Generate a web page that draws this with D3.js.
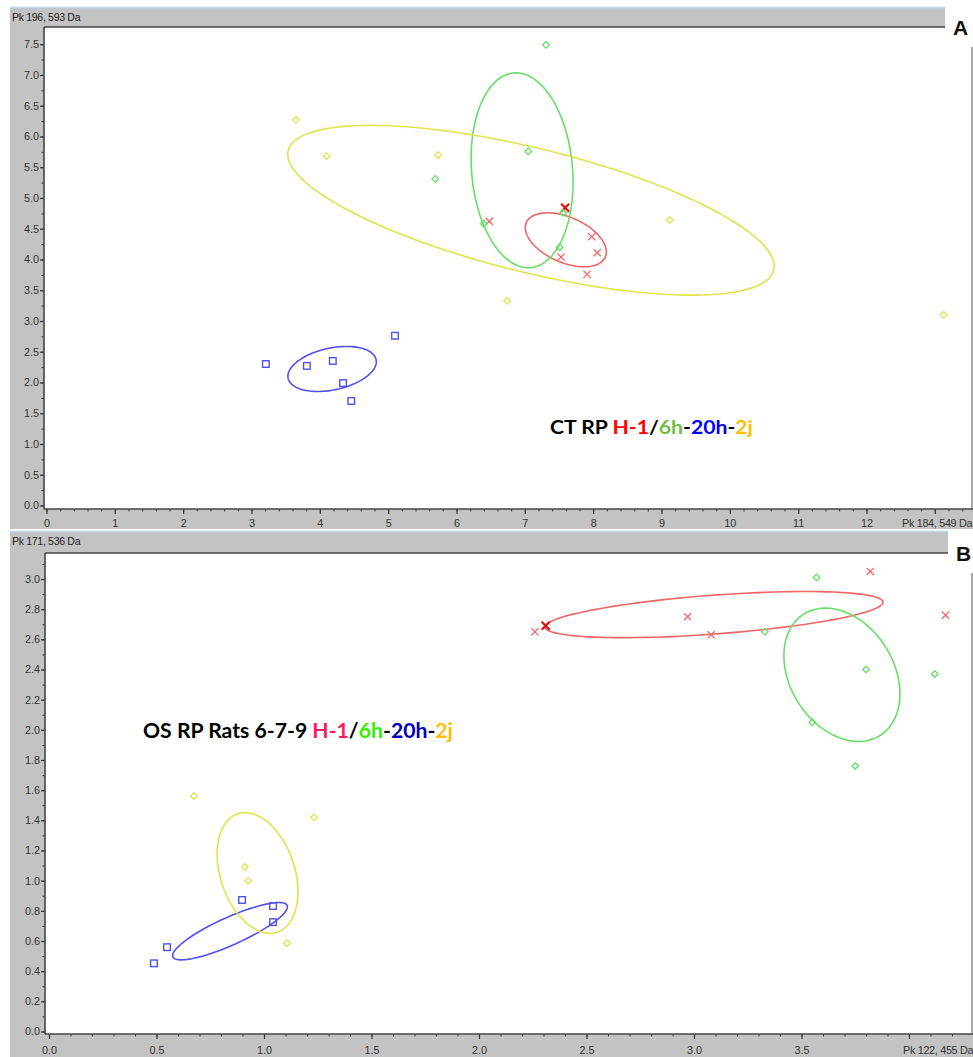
<!DOCTYPE html>
<html><head><meta charset="utf-8">
<script src="https://cdn.jsdelivr.net/npm/d3@7"></script>
<style>
html,body{margin:0;padding:0;background:#fff;}
svg{display:block;}
.tick text{font-family:"Liberation Sans",Arial,sans-serif;font-size:10.8px;fill:#333;}
</style></head>
<body>
<svg id="c" width="973" height="1057"></svg>
<script>
// ---------- data ----------
const groups = ["H-1", "6h", "20h", "2j"];
// Panel A (CT RP)
const aH1X  = [6.48, 7.59, 7.53, 7.98, 8.06, 7.91];
const aH1Y  = [4.62, 4.84, 4.04, 4.37, 4.11, 3.76];
const a6hX  = [7.31, 7.05, 5.69, 7.51, 7.56, 6.40];
const a6hY  = [7.49, 5.76, 5.31, 4.20, 4.76, 4.58];
const a20hX = [3.21, 3.81, 4.19, 4.34, 4.46, 5.10];
const a20hY = [2.30, 2.27, 2.35, 1.99, 1.70, 2.76];
const a2jX  = [3.65, 4.10, 5.73, 6.74, 9.12, 13.13];
const a2jY  = [6.27, 5.68, 5.70, 3.33, 4.64, 3.10];
// ellipses: [cx, cy, sx, sy, r]
const aEllH1  = [7.60, 4.32, 0.593, 0.439, -0.45];
const aEll6h  = [6.96, 5.45, 0.746, 1.585, -0.12];
const aEll20h = [4.18, 2.22, 0.647, 0.366, 0.325];
const aEll2j  = [7.09, 4.80, 3.56, 1.38, -0.66];
const aXTicks = [0,1,2,3,4,5,6,7,8,9,10,11,12];
const aYTicks = [0,0.5,1,1.5,2,2.5,3,3.5,4,4.5,5,5.5,6,6.5,7,7.5];
const aXName = "Pk 184, 549 Da", aYName = "Pk 196, 593 Da";
// Panel B (OS RP Rats 6-7-9)
const bH1X  = [2.26, 2.31, 2.97, 3.08, 3.82, 4.17];
const bH1Y  = [2.65, 2.69, 2.75, 2.63, 3.05, 2.76];
const b6hX  = [3.57, 3.33, 3.80, 4.12, 3.55, 3.75];
const b6hY  = [3.01, 2.65, 2.40, 2.37, 2.05, 1.76];
const b20hX = [0.488, 0.549, 0.898, 1.042, 1.042];
const b20hY = [0.452, 0.559, 0.872, 0.832, 0.725];
const b2jX  = [0.674, 1.233, 0.912, 0.926, 1.107];
const b2jY  = [1.56, 1.42, 1.09, 1.00, 0.585];
const bEllH1  = [3.093, 2.764, 0.786, 0.153, 0.537];
const bEll6h  = [3.688, 2.365, 0.270, 0.442, -0.285];
const bEll20h = [0.842, 0.665, 0.267, 0.190, 0.85];
const bEll2j  = [0.970, 1.051, 0.188, 0.400, -0.31];
const bXTicks = [0,0.5,1,1.5,2,2.5,3,3.5];
const bYTicks = [0,0.2,0.4,0.6,0.8,1,1.2,1.4,1.6,1.8,2,2.2,2.4,2.6,2.8,3];
const bXName = "Pk 122, 455 Da", bYName = "Pk 171, 536 Da";

// ---------- style ----------
const col = {"H-1":"#f06464","6h":"#66df66","20h":"#5050ee","2j":"#e2e24a"};
const shape = {"H-1":"x","6h":"diamond","20h":"square","2j":"diamond"};

const svg = d3.select("#c");

function drawPanel(o){
  const g = svg.append("g");
  g.append("rect").attr("x",10).attr("y",o.top).attr("width",963).attr("height",o.bottomGray-o.top).attr("fill","#c3c3c3");
  g.append("line").attr("x1",10).attr("x2",973).attr("y1",o.top-0.5).attr("y2",o.top-0.5).attr("stroke","#bcd6ea").attr("stroke-width",1.5);
  g.append("rect").attr("x",o.left).attr("y",o.plotTop).attr("width",973-o.left).attr("height",o.plotBottom-o.plotTop).attr("fill","#fff");
  g.append("rect").attr("x",o.hdrEnd).attr("y",o.top-2).attr("width",973-o.hdrEnd).attr("height",o.plotTop-o.top+22).attr("fill","#fff");
  g.append("line").attr("x1",o.left).attr("x2",o.hdrEnd).attr("y1",o.plotTop).attr("y2",o.plotTop).attr("stroke","#444").attr("stroke-width",1.5);
  g.append("line").attr("x1",972).attr("x2",972).attr("y1",o.plotTop+20).attr("y2",o.plotBottom).attr("stroke","#555").attr("stroke-width",1);
  g.append("text").attr("x",o.letterX).attr("y",o.letterY).attr("font-family","Liberation Sans, Arial, sans-serif").attr("font-weight","bold").attr("font-size",21).attr("fill","#111").text(o.letter);
  g.append("text").attr("x",12).attr("y",o.top+12.5).attr("font-family","Liberation Sans, Arial, sans-serif").attr("font-size",10.5).attr("fill","#222").attr("letter-spacing","-0.3").text(o.yName);

  const x = d3.scaleLinear().domain(o.xDom).range(o.xRange);
  const y = d3.scaleLinear().domain(o.yDom).range(o.yRange);

  const xMinor = d3.range(0, o.xMinorMax+1e-9, o.xMinorStep);
  const yMinor = d3.range(0, o.yMinorMax+1e-9, o.yMinorStep);
  const axG = g.append("g");
  axG.append("g").attr("transform",`translate(0,${o.plotBottom})`)
    .call(d3.axisBottom(x).tickValues(xMinor).tickSize(2.5).tickFormat(""))
    .call(s=>{s.select(".domain").remove(); s.selectAll("line").attr("stroke","#333");});
  axG.append("g").attr("transform",`translate(${o.left},0)`)
    .call(d3.axisLeft(y).tickValues(yMinor).tickSize(2.5).tickFormat(""))
    .call(s=>{s.select(".domain").remove(); s.selectAll("line").attr("stroke","#333");});
  axG.append("g").attr("transform",`translate(0,${o.plotBottom})`)
    .call(d3.axisBottom(x).tickValues(o.xTicks.concat([o.xNameTick])).tickSize(5).tickPadding(o.xPad).tickFormat(o.xFmt))
    .call(s=>{s.select(".domain").remove(); s.selectAll("line").attr("stroke","#333").attr("stroke-width",1.2);
      s.selectAll(".tick").filter(d=>d===o.xNameTick).select("text").remove();});
  axG.append("g").attr("transform",`translate(${o.left},0)`)
    .call(d3.axisLeft(y).tickValues(o.yTicks).tickSize(4).tickPadding(1).tickFormat(d3.format(".1f")))
    .call(s=>{s.select(".domain").remove(); s.selectAll("line").attr("stroke","#333").attr("stroke-width",1.2);});
  g.append("line").attr("x1",o.left).attr("x2",o.left).attr("y1",o.plotTop).attr("y2",o.plotBottom).attr("stroke","#444").attr("stroke-width",1.6);
  g.append("line").attr("x1",o.left).attr("x2",973).attr("y1",o.plotBottom).attr("y2",o.plotBottom).attr("stroke","#444").attr("stroke-width",1.6);
  g.append("text").attr("x",o.xNameX).attr("y",o.plotBottom+o.xPad+13).attr("font-family","Liberation Sans, Arial, sans-serif").attr("font-size",10.8).attr("fill","#333").attr("letter-spacing","-0.3").text(o.xName);

  const line = d3.line().x(d=>x(d[0])).y(d=>y(d[1])).curve(d3.curveLinearClosed);
  o.ells.forEach((e,i)=>{
    const [cx,cy,sx,sy,r] = e;
    const pts = d3.range(0,120).map(k=>{const t=k/120*2*Math.PI;
      return [cx+sx*Math.cos(t), cy+sy*(r*Math.cos(t)+Math.sqrt(1-r*r)*Math.sin(t))];});
    g.append("path").attr("d",line(pts)).attr("fill","none").attr("stroke",col[groups[i]]).attr("stroke-width",1.6);
  });

  o.series.forEach((s,i)=>{
    const grp = groups[i], c = col[grp];
    s[0].forEach((vx,j)=>{
      const px = x(vx), py = y(s[1][j]);
      if (shape[grp]==="x"){
        const bold = (j===o.boldIdx);
        const h = bold?4:3.6;
        g.append("path").attr("d",`M${px-h},${py-h}L${px+h},${py+h}M${px-h},${py+h}L${px+h},${py-h}`)
          .attr("stroke",bold?"#e01010":c).attr("stroke-width",bold?2.2:1.3).attr("fill","none");
      } else if (shape[grp]==="square"){
        g.append("rect").attr("x",px-3.3).attr("y",py-3.3).attr("width",6.6).attr("height",6.6)
          .attr("fill","none").attr("stroke",c).attr("stroke-width",1.4);
      } else {
        const h=3.3;
        g.append("path").attr("d",`M${px},${py-h}L${px+h},${py}L${px},${py+h}L${px-h},${py}Z`)
          .attr("fill","none").attr("stroke",c).attr("stroke-width",1.3);
      }
    });
  });

  const t = g.append("text").attr("x",o.capX).attr("y",o.capY).attr("font-family","Lato, 'Open Sans', sans-serif").attr("font-weight","bold").attr("font-size",o.capSize)
    .attr("textLength",o.capLen).attr("lengthAdjust","spacingAndGlyphs");
  o.caption.forEach(p=>t.append("tspan").attr("fill",p[1]).text(p[0]));
}

drawPanel({
  top:8, bottomGray:529, plotTop:27, plotBottom:509, left:44, hdrEnd:945,
  letter:"A", letterX:953, letterY:35, yName:aYName, xName:aXName, xNameX:902,
  xDom:[0,13], xRange:[46.5,934.8], yDom:[0,7.5], yRange:[505.5,44.2],
  xTicks:aXTicks, yTicks:aYTicks, xNameTick:13, xFmt:d3.format("d"), xPad:5,
  xMinorStep:0.2, xMinorMax:13.6, yMinorStep:0.25, yMinorMax:7.5,
  ells:[aEllH1,aEll6h,aEll20h,aEll2j],
  series:[[aH1X,aH1Y],[a6hX,a6hY],[a20hX,a20hY],[a2jX,a2jY]], boldIdx:1,
  capX:550, capY:434, capSize:19.5, capLen:203,
  caption:[["CT RP ","#000"],["H-1","#ff0000"],["/","#000"],["6h","#70bf44"],["-","#000"],["20h","#0000ff"],["-","#000"],["2j","#ffc000"]]
});
drawPanel({
  top:532, bottomGray:1057, plotTop:553, plotBottom:1034, left:45, hdrEnd:948,
  letter:"B", letterX:956, letterY:561, yName:bYName, xName:bXName, xNameX:903,
  xDom:[0,4], xRange:[49,909], yDom:[0,3], yRange:[1031.5,579],
  xTicks:bXTicks, yTicks:bYTicks, xNameTick:4, xFmt:d3.format(".1f"), xPad:7,
  xMinorStep:0.1, xMinorMax:4.2, yMinorStep:0.1, yMinorMax:3.1,
  ells:[bEllH1,bEll6h,bEll20h,bEll2j],
  series:[[bH1X,bH1Y],[b6hX,b6hY],[b20hX,b20hY],[b2jX,b2jY]], boldIdx:1,
  capX:143, capY:738, capSize:20.5, capLen:310,
  caption:[["OS RP Rats 6-7-9 ","#000"],["H-1","#ff1a5e"],["/","#000"],["6h","#33ee00"],["-","#000"],["20h","#0000c0"],["-","#000"],["2j","#ffc000"]]
});
</script>
</body></html>
